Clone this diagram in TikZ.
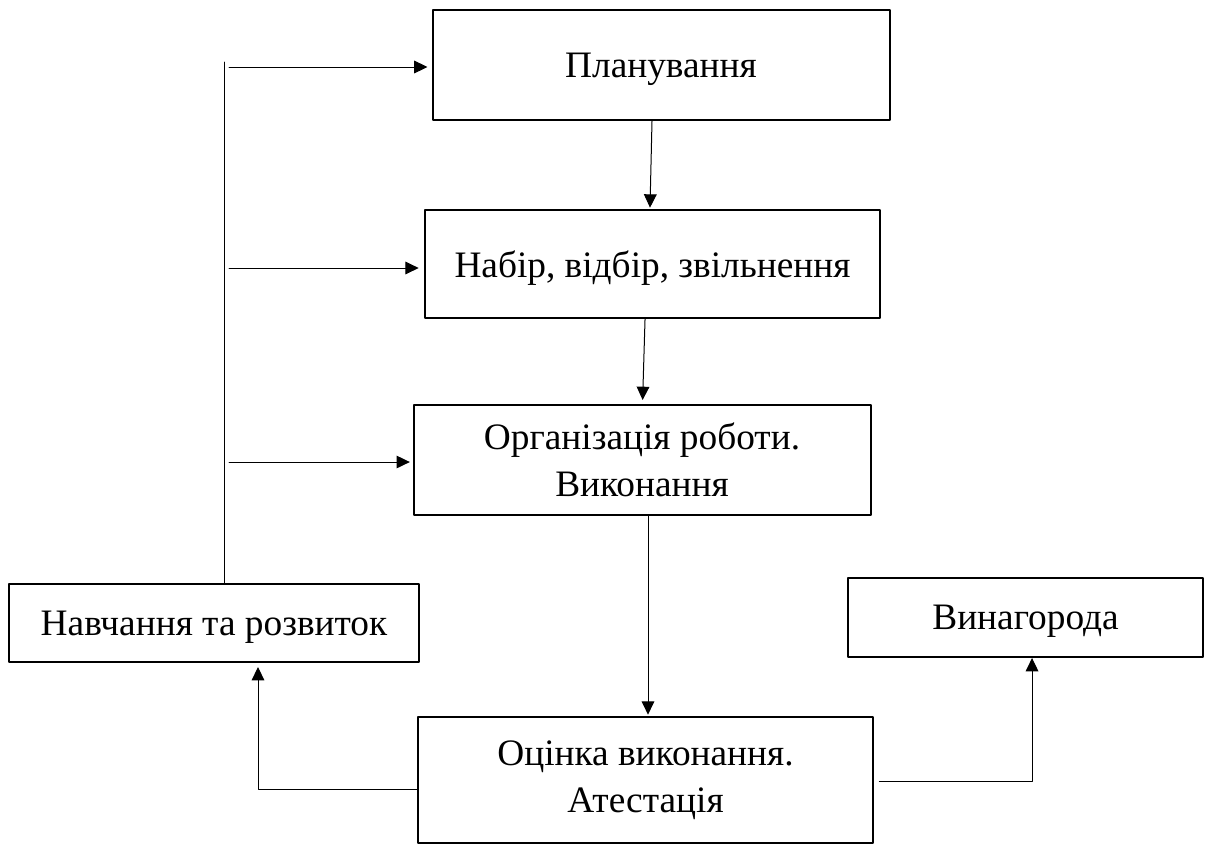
\documentclass[tikz,border=0pt]{standalone}
\usepackage{fontspec}
\setmainfont{Liberation Serif}
\usepackage{tikz}
\usetikzlibrary{arrows.meta}

\begin{document}
\begin{tikzpicture}[line cap=round,line join=round,x=0.75pt,y=-0.75pt,
	>={Triangle[length=10pt,width=9.5pt]},
	box/.style={draw,line width=1.5pt,align=center,inner sep=0pt,
		font=\fontsize{28}{35}\selectfont},
	oneline/.style={box,text depth=0pt},
	link/.style={line width=0.75pt}]
	\useasboundingbox (0,0) rectangle (1210,844);
	% boxes
	\node[oneline,minimum width=342.75pt,minimum height=82.5pt] (plan) at (661,65) {Планування};
	\node[oneline,minimum width=341.25pt,minimum height=81pt] (nabir) at (652.5,264) {Набір, відбір, звільнення};
	\node[box,minimum width=342.75pt,minimum height=82.5pt] (org) at (642,460) {Організація роботи.\\Виконання};
	\node[oneline,minimum width=307.5pt,minimum height=58.5pt] (nav) at (214,623) {Навчання та розвиток};
	\node[oneline,minimum width=266.25pt,minimum height=59.25pt] (vin) at (1025.5,617.5) {Винагорода};
	\node[box,minimum width=341.25pt,minimum height=94.5pt] (ocin) at (645.5,780) {Оцінка виконання.\\Атестація};
	% left feedback line
	\coordinate (bustop) at (224,62);
	\coordinate (b1) at (229,67);
	\coordinate (b2) at (229,268);
	\coordinate (b3) at (229,462);
	\draw[link] (bustop) -- (bustop |- nav.north);
	\draw[link,->,shorten >=3pt] (b1) -- (b1 -| plan.west);
	\draw[link,->,shorten >=4pt] (b2) -- (b2 -| nabir.west);
	\draw[link,->,shorten >=2pt] (b3) -- (b3 -| org.west);
	% main flow
	\draw[link,->,shorten >=1pt] ([xshift=-6.75pt]plan.south) -- ([xshift=-1.9pt]nabir.north);
	\draw[link,->,shorten >=3pt] ([xshift=-5.6pt]nabir.south) -- ([xshift=-7.5pt]nabir.south |- org.north);
	\draw[link,->,shorten >=1pt] ([xshift=4.5pt]org.south) -- ([xshift=4.5pt]org.south |- ocin.north);
	% from appraisal
	\draw[link,->,shorten >=3pt] ([yshift=-6.75pt]ocin.west) -| ([xshift=33pt]nav.south);
	\draw[link,->,shorten <=4pt] ([yshift=-0.75pt]ocin.east) -| ([xshift=4.9pt]vin.south);
\end{tikzpicture}
\end{document}
